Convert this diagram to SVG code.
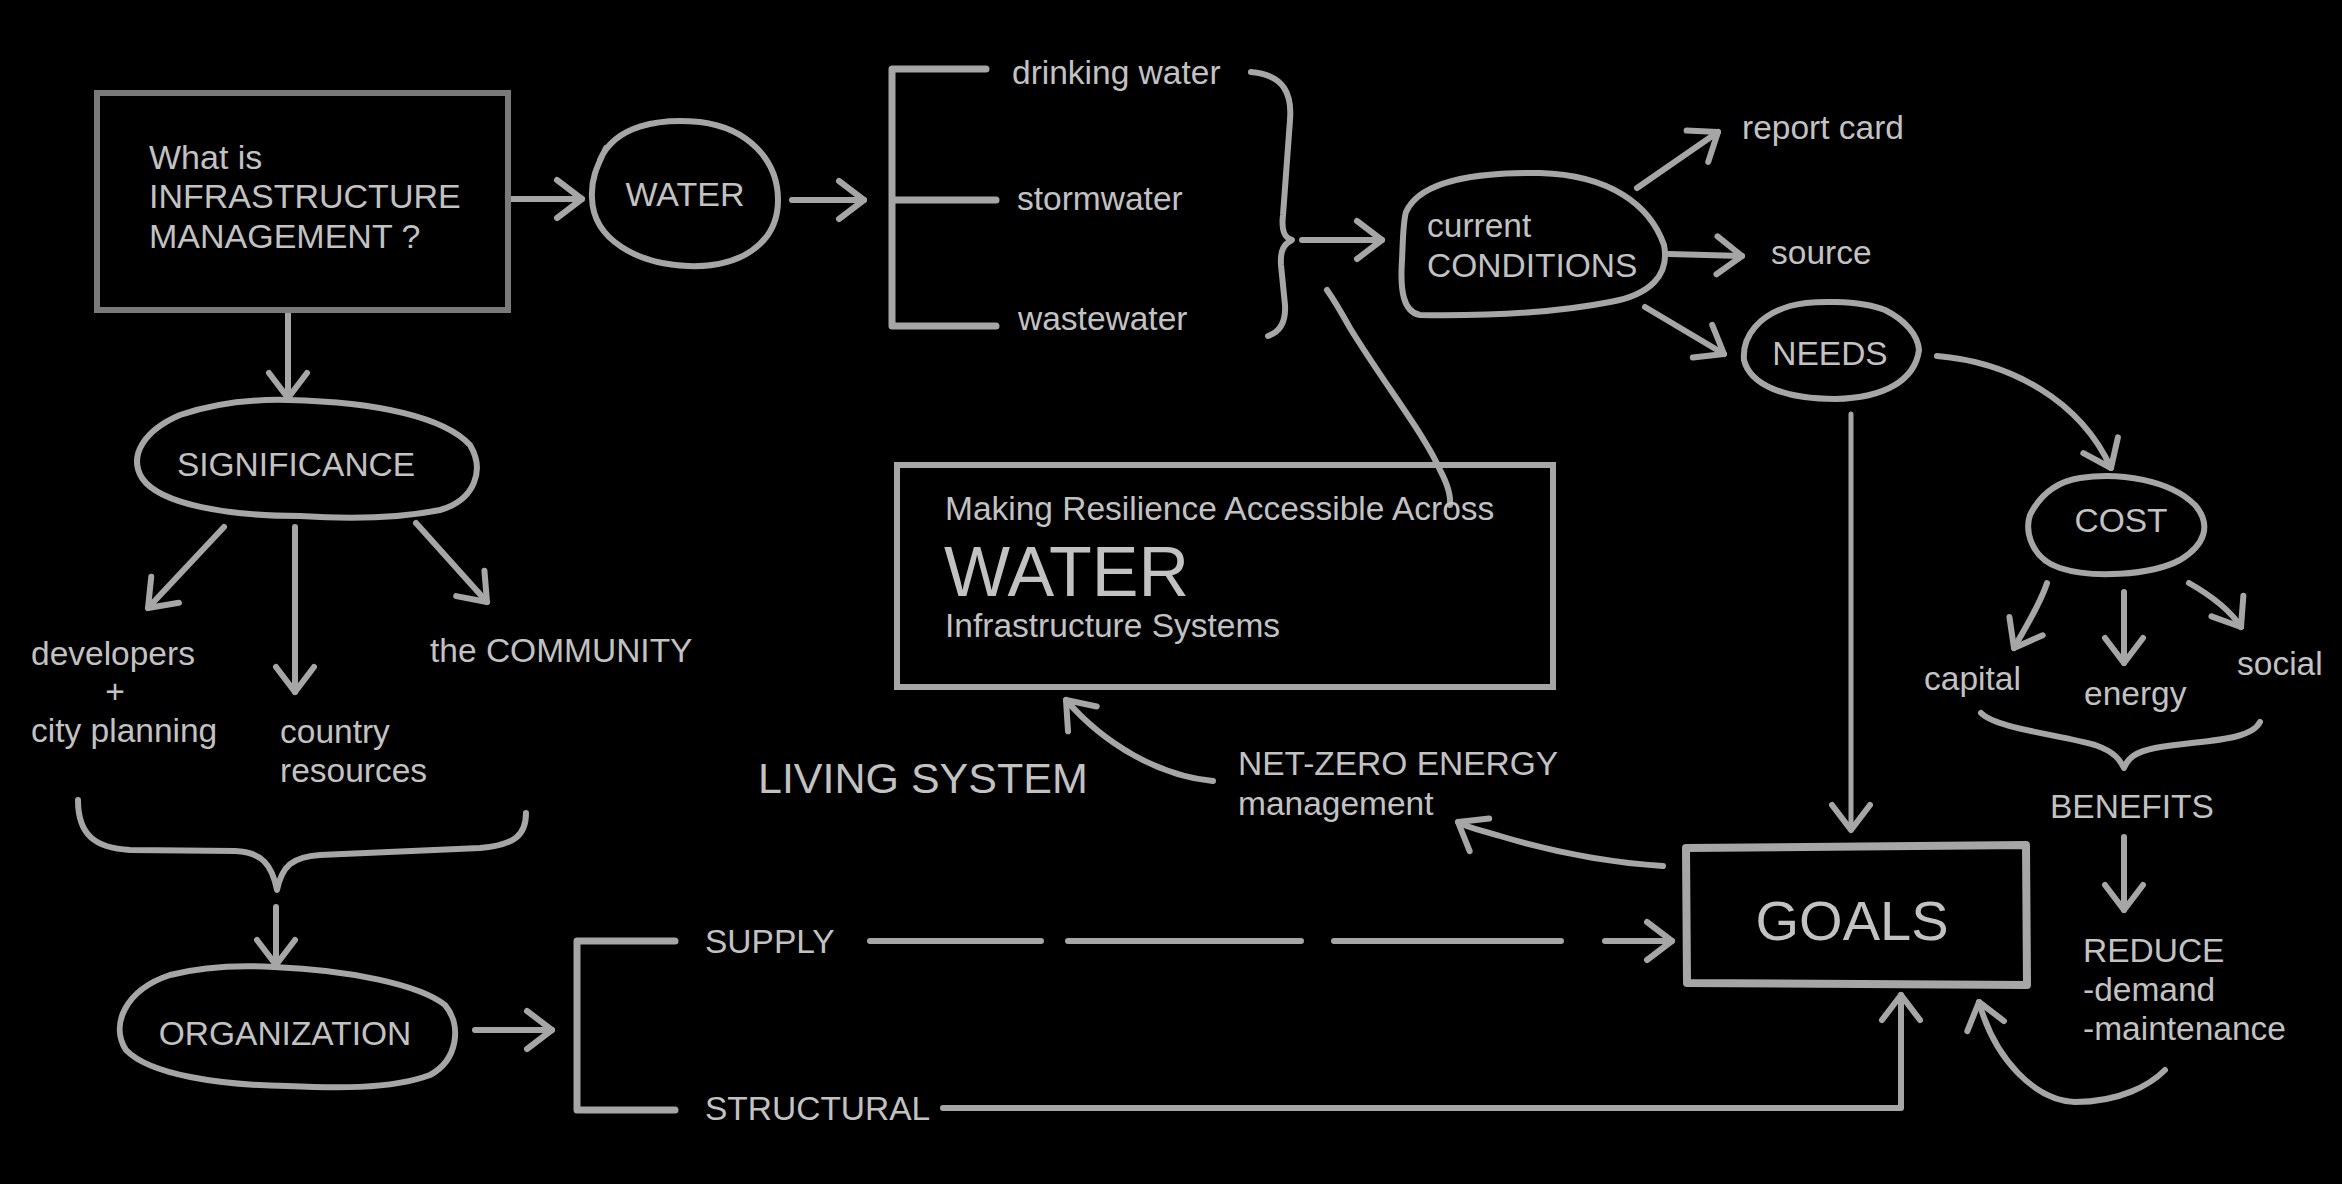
<svg xmlns="http://www.w3.org/2000/svg" width="2342" height="1184" viewBox="0 0 2342 1184">
<style>
.t{font-family:"Liberation Sans",Arial,Helvetica,sans-serif;fill:#c2c2c2;font-size:33.5px}
.m{text-anchor:middle}
.s{fill:none;stroke:#a6a6a6;stroke-width:6;stroke-linecap:round;stroke-linejoin:round}
.b{fill:none;stroke:#a6a6a6;stroke-width:7;stroke-linecap:round;stroke-linejoin:round}
.a{marker-end:url(#ah)}
</style>
<defs>
<marker id="ah" viewBox="-32 -24 38 48" refX="0" refY="0" markerWidth="38" markerHeight="48" markerUnits="userSpaceOnUse" orient="auto">
<path d="M-25,-19 L0,0 L-25,19" fill="none" stroke="#a6a6a6" stroke-width="6" stroke-linecap="round" stroke-linejoin="round"/>
</marker>
</defs>
<rect width="2342" height="1184" fill="#000"/>

<g id="connectors">
<path class="s a" d="M508,199 L582,199"/>
<path class="s a" d="M792,200 L864,200"/>
<path class="b" d="M986,69 H892 V326 H996 M892,200 H996"/>
<path class="s" d="M1251,72 C1285,75 1292,95 1290,120 L1283,215 C1281,232 1285,238 1292,240 C1284,244 1280,250 1281,265 L1285,305 C1286,322 1280,332 1268,336"/>
<path class="s a" d="M1302,240 L1382,240"/>
<path class="s" d="M1327,290 C1334,300 1340,310 1350,328 C1385,385 1425,435 1440,470 C1448,485 1451,495 1450,505"/>
<path class="s a" d="M1637,188 L1718,132"/>
<path class="s a" d="M1669,254 L1742,256"/>
<path class="s a" d="M1645,307 L1724,354"/>
<path class="s a" d="M1937,356 C2010,362 2080,400 2111,468"/>
<path class="s a" style="stroke-width:5" d="M1851,414 L1851,830"/>
<path class="s a" d="M2047,583 C2040,605 2025,628 2014,648"/>
<path class="s a" d="M2124,592 L2124,663"/>
<path class="s a" d="M2189,583 C2210,595 2230,610 2241,627"/>
<path class="s" d="M1981,713 C1995,728 2060,735 2095,745 C2115,752 2120,760 2124,768 C2128,758 2135,752 2155,748 C2200,740 2250,742 2260,722"/>
<path class="s a" d="M2124,837 L2124,910"/>
<path class="s a" d="M2165,1070 C2150,1085 2120,1102 2075,1102 C2035,1100 1995,1060 1979,1002"/>
<path class="s a" d="M1663,866 C1600,862 1540,848 1500,836 C1480,830 1468,828 1458,822"/>
<path class="s a" d="M1213,781 C1160,776 1105,745 1066,700"/>
<path class="s" d="M870,941 H1041 M1068,941 H1301 M1334,941 H1561"/>
<path class="s a" d="M1605,941 H1672"/>
<path class="s a" d="M943,1108 H1901 V995"/>
<path class="b" d="M675,941 H577 V1110 H675"/>
<path class="s a" d="M475,1030 L552,1030"/>
<path class="s" d="M78,800 C78,835 95,848 130,850 L235,851 C262,852 272,865 277,890 C282,866 292,857 320,855 L480,848 C515,845 526,835 526,813"/>
<path class="s a" d="M276,907 L276,965"/>
<path class="s a" d="M288,310 L288,398"/>
<path class="s a" d="M224,527 L148,608"/>
<path class="s a" d="M295,527 L295,692"/>
<path class="s a" d="M416,523 L487,602"/>
</g>

<g id="n-infra">
<rect x="97" y="93" width="411" height="217" fill="none" stroke="#7a7a7a" stroke-width="6"/>
<text class="t" x="149" y="169" style="font-size:34px">What is</text>
<text class="t" x="149" y="208" style="font-size:34px">INFRASTRUCTURE</text>
<text class="t" x="149" y="248" style="font-size:34px">MANAGEMENT ?</text>
</g>

<g id="n-water">
<path class="s" d="M600,160 C615,125 660,118 700,122 C748,128 778,160 778,200 C778,245 738,268 688,266 C638,264 593,240 592,198 C591,180 596,168 606,148"/>
<text class="t m" x="685" y="206" style="font-size:34px">WATER</text>
</g>

<g id="n-types">
<text class="t" x="1012" y="84">drinking water</text>
<text class="t" x="1017" y="210">stormwater</text>
<text class="t" x="1018" y="330">wastewater</text>
</g>

<g id="n-conditions">
<path class="s" d="M1406,212 C1420,180 1480,172 1540,173 C1610,175 1650,205 1664,245 C1670,275 1650,295 1610,302 C1560,312 1490,316 1420,315 C1403,312 1400,290 1402,260 C1403,240 1403,222 1406,212 Z"/>
<text class="t" x="1427" y="237">current</text>
<text class="t" x="1427" y="277">CONDITIONS</text>
</g>

<g id="n-report"><text class="t" x="1742" y="139">report card</text></g>
<g id="n-source"><text class="t" x="1771" y="264">source</text></g>

<g id="n-needs">
<path class="s" d="M1790,306 C1810,300 1860,300 1885,310 C1905,320 1918,335 1919,350 C1915,380 1885,398 1835,399 C1785,399 1750,385 1744,360 C1742,335 1760,315 1790,306 Z"/>
<text class="t m" x="1830" y="365">NEEDS</text>
</g>

<g id="n-cost">
<path class="s" d="M2080,478 C2120,472 2170,480 2195,505 C2212,525 2205,545 2180,560 C2150,576 2090,578 2060,568 C2030,558 2025,530 2030,515 C2040,495 2055,482 2080,478 Z"/>
<text class="t m" x="2121" y="532">COST</text>
</g>

<g id="n-capital"><text class="t" x="1924" y="690">capital</text></g>
<g id="n-energy"><text class="t" x="2084" y="705">energy</text></g>
<g id="n-social"><text class="t" x="2237" y="675">social</text></g>
<g id="n-benefits"><text class="t" x="2050" y="818">BENEFITS</text></g>

<g id="n-reduce">
<text class="t" x="2083" y="962">REDUCE</text>
<text class="t" x="2083" y="1001">-demand</text>
<text class="t" x="2083" y="1040">-maintenance</text>
</g>

<g id="n-goals">
<path d="M1686,848 L2026,845 L2027,985 L1687,983 Z" fill="none" stroke="#a6a6a6" stroke-width="8" stroke-linejoin="round"/>
<text class="t m" x="1852" y="940" style="font-size:56px">GOALS</text>
</g>

<g id="n-resilience">
<rect x="897" y="465" width="656" height="222" fill="none" stroke="#a6a6a6" stroke-width="6"/>
<text class="t" x="945" y="520">Making Resilience Accessible Across</text>
<text class="t" x="944" y="596" style="font-size:70px">WATER</text>
<text class="t" x="945" y="637">Infrastructure Systems</text>
</g>

<g id="n-living"><text class="t" x="758" y="793" style="font-size:43px">LIVING SYSTEM</text></g>

<g id="n-netzero">
<text class="t" x="1238" y="775">NET-ZERO ENERGY</text>
<text class="t" x="1238" y="815">management</text>
</g>

<g id="n-significance">
<path class="s" d="M288,400 C380,402 445,418 470,445 C485,470 475,500 440,510 C390,520 330,518 300,516 C230,516 160,505 142,478 C128,455 145,430 180,415 C215,403 250,399 288,400 Z"/>
<text class="t m" x="296" y="476">SIGNIFICANCE</text>
</g>

<g id="n-developers">
<text class="t" x="31" y="665">developers</text>
<text class="t m" x="115" y="703">+</text>
<text class="t" x="31" y="742">city planning</text>
</g>

<g id="n-country">
<text class="t" x="280" y="743">country</text>
<text class="t" x="280" y="782">resources</text>
</g>

<g id="n-community"><text class="t" x="430" y="662">the COMMUNITY</text></g>

<g id="n-organization">
<path class="s" d="M274,967 C350,970 420,985 445,1005 C462,1025 458,1060 430,1075 C390,1090 330,1088 287,1086 C220,1085 150,1075 126,1050 C110,1025 125,990 170,975 C205,966 240,965 274,967 Z"/>
<text class="t m" x="285" y="1045">ORGANIZATION</text>
</g>

<g id="n-supply"><text class="t" x="705" y="953">SUPPLY</text></g>
<g id="n-structural"><text class="t" x="705" y="1120">STRUCTURAL</text></g>
</svg>
